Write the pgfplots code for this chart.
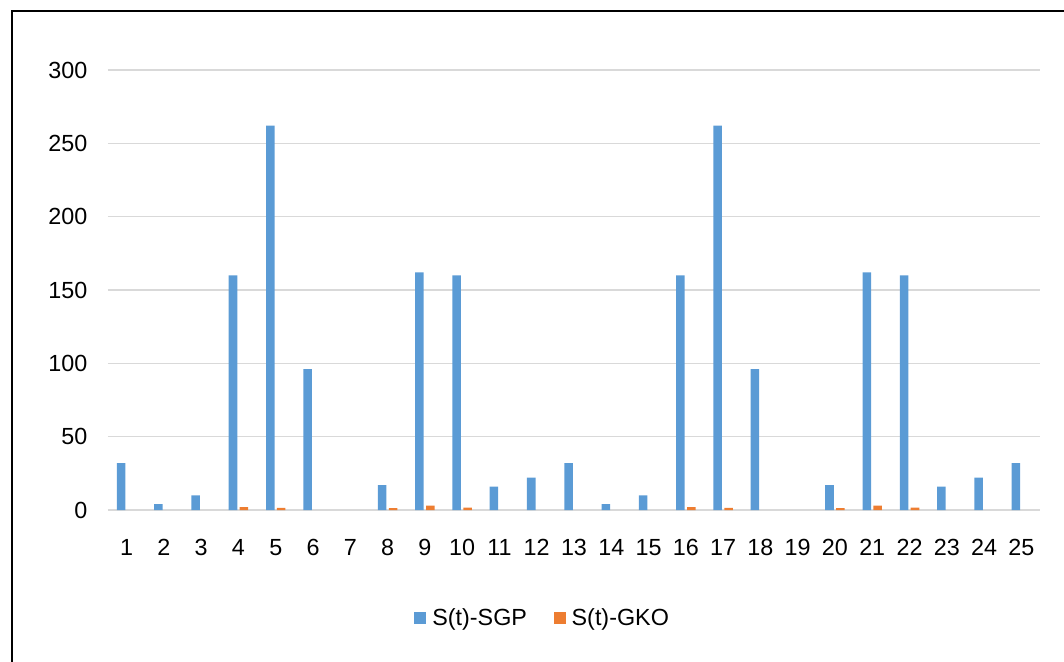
\documentclass[border=0pt]{standalone}
\usepackage{fontspec}
\setmainfont{Liberation Sans}
\usepackage{pgfplots}
\pgfplotsset{compat=1.18}
\definecolor{sgp}{HTML}{5B9BD5}
\definecolor{gko}{HTML}{ED7D31}
\definecolor{gridgray}{HTML}{D9D9D9}

\begin{document}
\begin{tikzpicture}[x=1pt,y=1pt]
% page area and chart frame
\path[use as bounding box] (-81,-113.25) rectangle (717,382.5);
\draw[line width=1.9pt] (-72,-140) -- (-72,374.25) -- (740,374.25);
\begin{axis}[
  at={(0,0)}, anchor=south west,
  scale only axis, width=699pt, height=330pt,
  xmin=0.5, xmax=25.5, ymin=0, ymax=300,
  ytick={0,50,...,300}, xtick={1,...,25},
  ybar=1.8pt, bar width=6.4pt,
  axis line style={draw=none},
  major tick length=0pt,
  ymajorgrids, grid style={gridgray, line width=1.1pt},
  tick label style={font=\fontsize{17.5}{21}\selectfont},
  /pgf/number format/assume math mode=true,
  yticklabel style={xshift=-12pt},
  xticklabel style={yshift=-18.5pt},
  legend style={at={(axis description cs:0.4667,-0.2455)}, anchor=center,
    draw=none, fill=none, legend columns=2,
    font=\fontsize{17.5}{21}\selectfont,
    /tikz/every odd column/.append style={column sep=2.5pt},
    /tikz/every even column/.append style={column sep=18pt}},
  legend image code/.code={\fill[#1] (0pt,-4.5pt) rectangle (9pt,4.5pt);},
]
% zero values are left out so that no sliver is drawn for them
\addplot[fill=sgp, draw=none] coordinates {
 (1,32) (2,4) (3,10) (4,160) (5,262) (6,96) (8,17) (9,162) (10,160)
 (11,16) (12,22) (13,32) (14,4) (15,10) (16,160) (17,262) (18,96)
 (20,17) (21,162) (22,160) (23,16) (24,22) (25,32)};
\addplot[fill=gko, draw=none] coordinates {
 (4,2) (5,1.5) (8,1.3) (9,3) (10,1.7)
 (16,2) (17,1.5) (20,1.3) (21,3) (22,1.7)};
\legend{S(t)-SGP, S(t)-GKO}
\end{axis}
\end{tikzpicture}
\end{document}
